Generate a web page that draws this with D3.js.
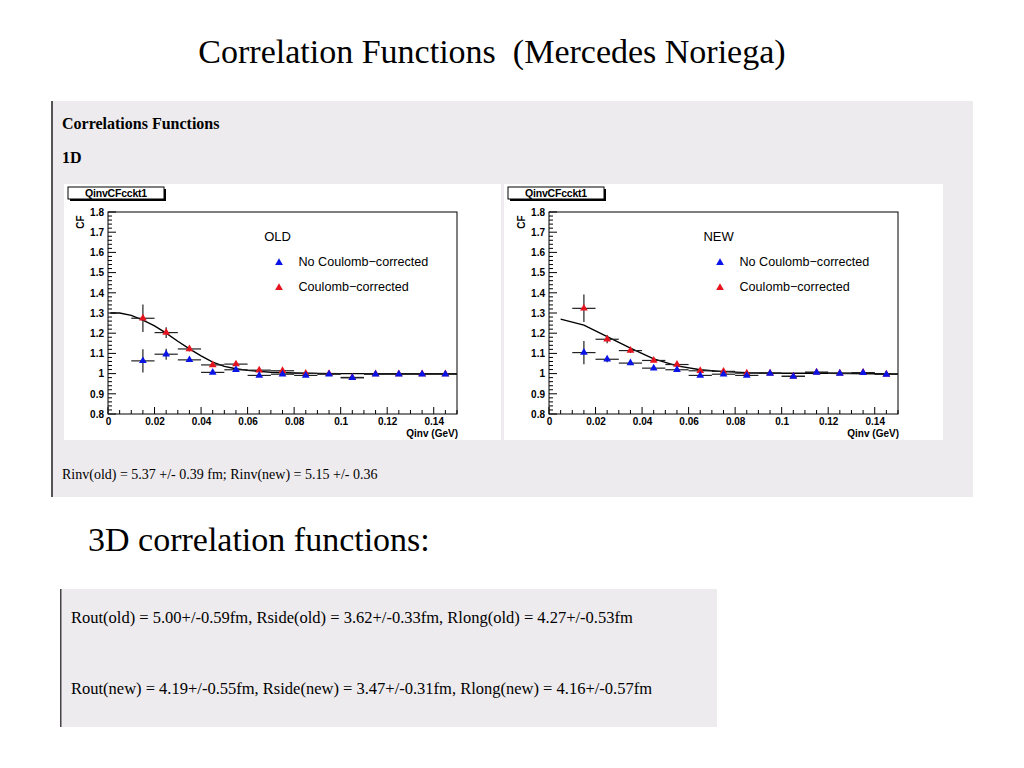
<!DOCTYPE html>
<html>
<head>
<meta charset="utf-8">
<script src="https://cdn.jsdelivr.net/npm/d3@7"></script>
<style>
  body { margin: 0; background: #fff; }
  svg { display: block; }
</style>
</head>
<body>
<svg id="chart" width="1024" height="768"></svg>
<script>
// ---------------- data ----------------
const qBins = [0.015, 0.025, 0.035, 0.045, 0.055, 0.065, 0.075, 0.085, 0.095, 0.105, 0.115, 0.125, 0.135, 0.145];
const binHalfWidth = 0.005;

const oldNoCoul    = [1.063, 1.096, 1.068, 1.006, 1.019, 0.991, 0.997, 0.991, 0.997, 0.979, 0.997, 0.997, 0.997, 0.997];
const oldNoCoulErr = [0.057, 0.027, 0.010, 0.008, 0.006, 0.005, 0.004, 0.004, 0.003, 0.003, 0.003, 0.003, 0.003, 0.003];
const oldCoul      = [1.274, 1.203, 1.122, 1.043, 1.047, 1.017, 1.014, 1.001, 0.999, 0.981, 0.998, 0.998, 0.998, 0.998];
const oldCoulErr   = [0.068, 0.027, 0.012, 0.008, 0.006, 0.005, 0.004, 0.004, 0.003, 0.003, 0.003, 0.003, 0.003, 0.003];

const newNoCoul    = [1.104, 1.071, 1.052, 1.027, 1.019, 0.991, 0.997, 0.991, 1.001, 0.986, 1.006, 1.001, 1.004, 0.996];
const newNoCoulErr = [0.058, 0.015, 0.010, 0.008, 0.006, 0.005, 0.004, 0.004, 0.003, 0.003, 0.003, 0.003, 0.003, 0.003];
const newCoul      = [1.323, 1.170, 1.114, 1.065, 1.045, 1.014, 1.011, 1.002, 1.002, 0.987, 1.007, 1.002, 1.005, 0.997];
const newCoulErr   = [0.068, 0.020, 0.012, 0.008, 0.006, 0.005, 0.004, 0.004, 0.003, 0.003, 0.003, 0.003, 0.003, 0.003];

const fitQOld = [0.001, 0.005, 0.01, 0.015, 0.02, 0.025, 0.03, 0.035, 0.04, 0.045, 0.05, 0.055, 0.06, 0.065, 0.07, 0.08, 0.09, 0.10, 0.15];
const fitOld  = [1.300, 1.300, 1.288, 1.265, 1.236, 1.200, 1.160, 1.122, 1.088, 1.057, 1.036, 1.024, 1.016, 1.011, 1.007, 1.003, 1.001, 1.000, 1.000];
const fitQNew = [0.005, 0.015, 0.025, 0.035, 0.045, 0.055, 0.065, 0.075, 0.085, 0.10, 0.12, 0.15];
const fitNew  = [1.270, 1.240, 1.183, 1.126, 1.073, 1.038, 1.019, 1.010, 1.005, 1.002, 1.002, 0.998];

const xTickLabels = ["0", "0.02", "0.04", "0.06", "0.08", "0.1", "0.12", "0.14"];
const yTickLabels = ["0.8", "0.9", "1", "1.1", "1.2", "1.3", "1.4", "1.5", "1.6", "1.7", "1.8"];

const pageTitle = "Correlation Functions  (Mercedes Noriega)";
const sectionTitle = "Correlations Functions";
const subTitle = "1D";
const histName = "QinvCFcckt1";
const legendLabels = ["No Coulomb\u2212corrected", "Coulomb\u2212corrected"];
const panelTags = ["OLD", "NEW"];
const rinvText = "Rinv(old) = 5.37 +/- 0.39 fm; Rinv(new) = 5.15 +/- 0.36";
const heading3D = "3D correlation functions:";
const lines3D = [
  "Rout(old) = 5.00+/-0.59fm, Rside(old) = 3.62+/-0.33fm, Rlong(old) = 4.27+/-0.53fm",
  "Rout(new) = 4.19+/-0.55fm, Rside(new) = 3.47+/-0.31fm, Rlong(new) = 4.16+/-0.57fm"
];

// ---------------- drawing ----------------
const svg = d3.select("#chart");
const serif = "'Liberation Serif', 'DejaVu Serif', serif";
const sans = "'Liberation Sans', Arial, sans-serif";
const panelBg = "#eeebee";
const BLUE = "#0a14e6", RED = "#e6141e";

svg.append("rect").attr("width", 1024).attr("height", 768).attr("fill", "#fff");

svg.append("text").attr("x", 492).attr("y", 63).attr("text-anchor", "middle")
  .style("white-space", "pre")
  .attr("font-family", serif).attr("font-size", 34).attr("fill", "#000").text(pageTitle);

// Panel 1
svg.append("rect").attr("x", 51).attr("y", 101).attr("width", 922).attr("height", 396).attr("fill", panelBg);
svg.append("rect").attr("x", 51).attr("y", 101).attr("width", 2).attr("height", 396).attr("fill", "#555");
svg.append("text").attr("x", 62).attr("y", 129).attr("font-family", serif).attr("font-weight", "bold")
  .attr("font-size", 16).text(sectionTitle);
svg.append("text").attr("x", 62).attr("y", 163).attr("font-family", serif).attr("font-weight", "bold")
  .attr("font-size", 16).text(subTitle);

function drawPlot(cfg) {
  const g = svg.append("g");
  g.append("rect").attr("x", cfg.bx).attr("y", 184).attr("width", cfg.bw).attr("height", 256).attr("fill", "#fff");

  const x = d3.scaleLinear().domain([0, 0.15]).range([cfg.x0, cfg.x0 + 349]);
  const y = d3.scaleLinear().domain([0.8, 1.8]).range([414, 212]);

  // title box with shadow
  g.append("rect").attr("x", cfg.bx + 6).attr("y", 189).attr("width", 96).attr("height", 12).attr("fill", "#000");
  g.append("rect").attr("x", cfg.bx + 4).attr("y", 187).attr("width", 96).attr("height", 12)
    .attr("fill", "#fff").attr("stroke", "#000").attr("stroke-width", 1);
  g.append("text").attr("x", cfg.bx + 52).attr("y", 197).attr("text-anchor", "middle")
    .attr("font-family", sans).attr("font-weight", "bold").attr("font-size", 10.5).attr("letter-spacing", -0.2)
    .text(histName);

  // frame
  g.append("rect").attr("x", x(0)).attr("y", y(1.8)).attr("width", x(0.15) - x(0)).attr("height", y(0.8) - y(1.8))
    .attr("fill", "none").attr("stroke", "#000").attr("stroke-width", 1);

  // x axis ticks (inside, pointing up)
  const xMinor = d3.range(0, 0.1501, 0.005);
  g.append("g").selectAll("line").data(xMinor).join("line")
    .attr("x1", d => x(d)).attr("x2", d => x(d))
    .attr("y1", y(0.8)).attr("y2", (d, i) => y(0.8) - (i % 4 === 0 ? 7 : 4))
    .attr("stroke", "#000");
  const xAxis = d3.axisBottom(x).tickValues(xTickLabels.map(Number)).tickSize(0).tickPadding(4)
    .tickFormat((d, i) => xTickLabels[i]);
  const xa = g.append("g").attr("transform", `translate(0,${y(0.8)})`).call(xAxis);
  xa.select(".domain").remove();
  xa.selectAll("text").attr("font-family", sans).attr("font-weight", "bold").attr("font-size", 10);

  // y axis ticks (inside, pointing right)
  const yMinor = d3.range(0.8, 1.8001, 0.02);
  g.append("g").selectAll("line").data(yMinor).join("line")
    .attr("y1", d => y(d)).attr("y2", d => y(d))
    .attr("x1", x(0)).attr("x2", (d, i) => x(0) + (i % 5 === 0 ? 8 : 4))
    .attr("stroke", "#000");
  const yAxis = d3.axisLeft(y).tickValues(yTickLabels.map(Number)).tickSize(0).tickPadding(4)
    .tickFormat((d, i) => yTickLabels[i]);
  const ya = g.append("g").attr("transform", `translate(${x(0)},0)`).call(yAxis);
  ya.select(".domain").remove();
  ya.selectAll("text").attr("font-family", sans).attr("font-weight", "bold").attr("font-size", 10);

  // axis titles
  g.append("text").attr("x", x(0.15) + 1).attr("y", 437).attr("text-anchor", "end")
    .attr("font-family", sans).attr("font-weight", "bold").attr("font-size", 10).text("Qinv (GeV)");
  g.append("text").attr("transform", `translate(${x(0) - 24},222) rotate(-90)`).attr("text-anchor", "middle")
    .attr("font-family", sans).attr("font-weight", "bold").attr("font-size", 10).text("CF");

  // fit line
  const line = d3.line().x(d => x(d[0])).y(d => y(d[1])).curve(d3.curveLinear);
  g.append("path").datum(cfg.fitQ.map((q, i) => [q, cfg.fit[i]]))
    .attr("d", line).attr("fill", "none").attr("stroke", "#000").attr("stroke-width", 1.4);

  const tri = d3.symbol().type(d3.symbolTriangle).size(26);
  function series(vals, errs, color) {
    const s = g.append("g");
    const pts = qBins.map((q, i) => ({ q, v: vals[i], e: errs[i] }));
    s.selectAll("line.h").data(pts).join("line").attr("class", "h")
      .attr("x1", d => x(d.q - binHalfWidth)).attr("x2", d => x(d.q + binHalfWidth))
      .attr("y1", d => y(d.v)).attr("y2", d => y(d.v))
      .attr("stroke", "#222").attr("stroke-width", 1.2);
    s.selectAll("line.v").data(pts).join("line").attr("class", "v")
      .attr("x1", d => x(d.q)).attr("x2", d => x(d.q))
      .attr("y1", d => y(d.v - d.e)).attr("y2", d => y(d.v + d.e))
      .attr("stroke", "#222").attr("stroke-width", 1.2);
    s.selectAll("path").data(pts).join("path")
      .attr("d", tri).attr("transform", d => `translate(${x(d.q)},${y(d.v)})`).attr("fill", color);
  }
  series(cfg.coul, cfg.coulErr, RED);
  series(cfg.noCoul, cfg.noCoulErr, BLUE);

  // legend
  g.append("text").attr("x", x(0.0729)).attr("y", y(1.681) + 4.5).attr("text-anchor", "middle")
    .attr("font-family", sans).attr("font-size", 13).text(cfg.tag);
  const lx = x(0.0735);
  [[BLUE, 1.554], [RED, 1.430]].forEach(([c, v], i) => {
    g.append("path").attr("d", tri).attr("transform", `translate(${lx},${y(v) + 1})`).attr("fill", c);
    g.append("text").attr("x", lx + 19.5).attr("y", y(v) + 4.5).attr("font-family", sans).attr("font-size", 12.6)
      .text(legendLabels[i]);
  });
}

drawPlot({ bx: 64, bw: 437, x0: 108, tag: panelTags[0],
  noCoul: oldNoCoul, noCoulErr: oldNoCoulErr, coul: oldCoul, coulErr: oldCoulErr, fitQ: fitQOld, fit: fitOld });
drawPlot({ bx: 504, bw: 439, x0: 549, tag: panelTags[1],
  noCoul: newNoCoul, noCoulErr: newNoCoulErr, coul: newCoul, coulErr: newCoulErr, fitQ: fitQNew, fit: fitNew });

svg.append("text").attr("x", 62).attr("y", 479).attr("font-family", serif).attr("font-size", 14).text(rinvText);

svg.append("text").attr("x", 88).attr("y", 551).attr("font-family", serif).attr("font-size", 34).text(heading3D);

// Panel 2
svg.append("rect").attr("x", 60).attr("y", 589).attr("width", 657).attr("height", 138).attr("fill", panelBg);
svg.append("rect").attr("x", 60).attr("y", 589).attr("width", 1.5).attr("height", 138).attr("fill", "#444");
lines3D.forEach((t, i) => {
  svg.append("text").attr("x", 71).attr("y", 623 + i * 71).attr("font-family", serif).attr("font-size", 16.5).text(t);
});
</script>
</body>
</html>
